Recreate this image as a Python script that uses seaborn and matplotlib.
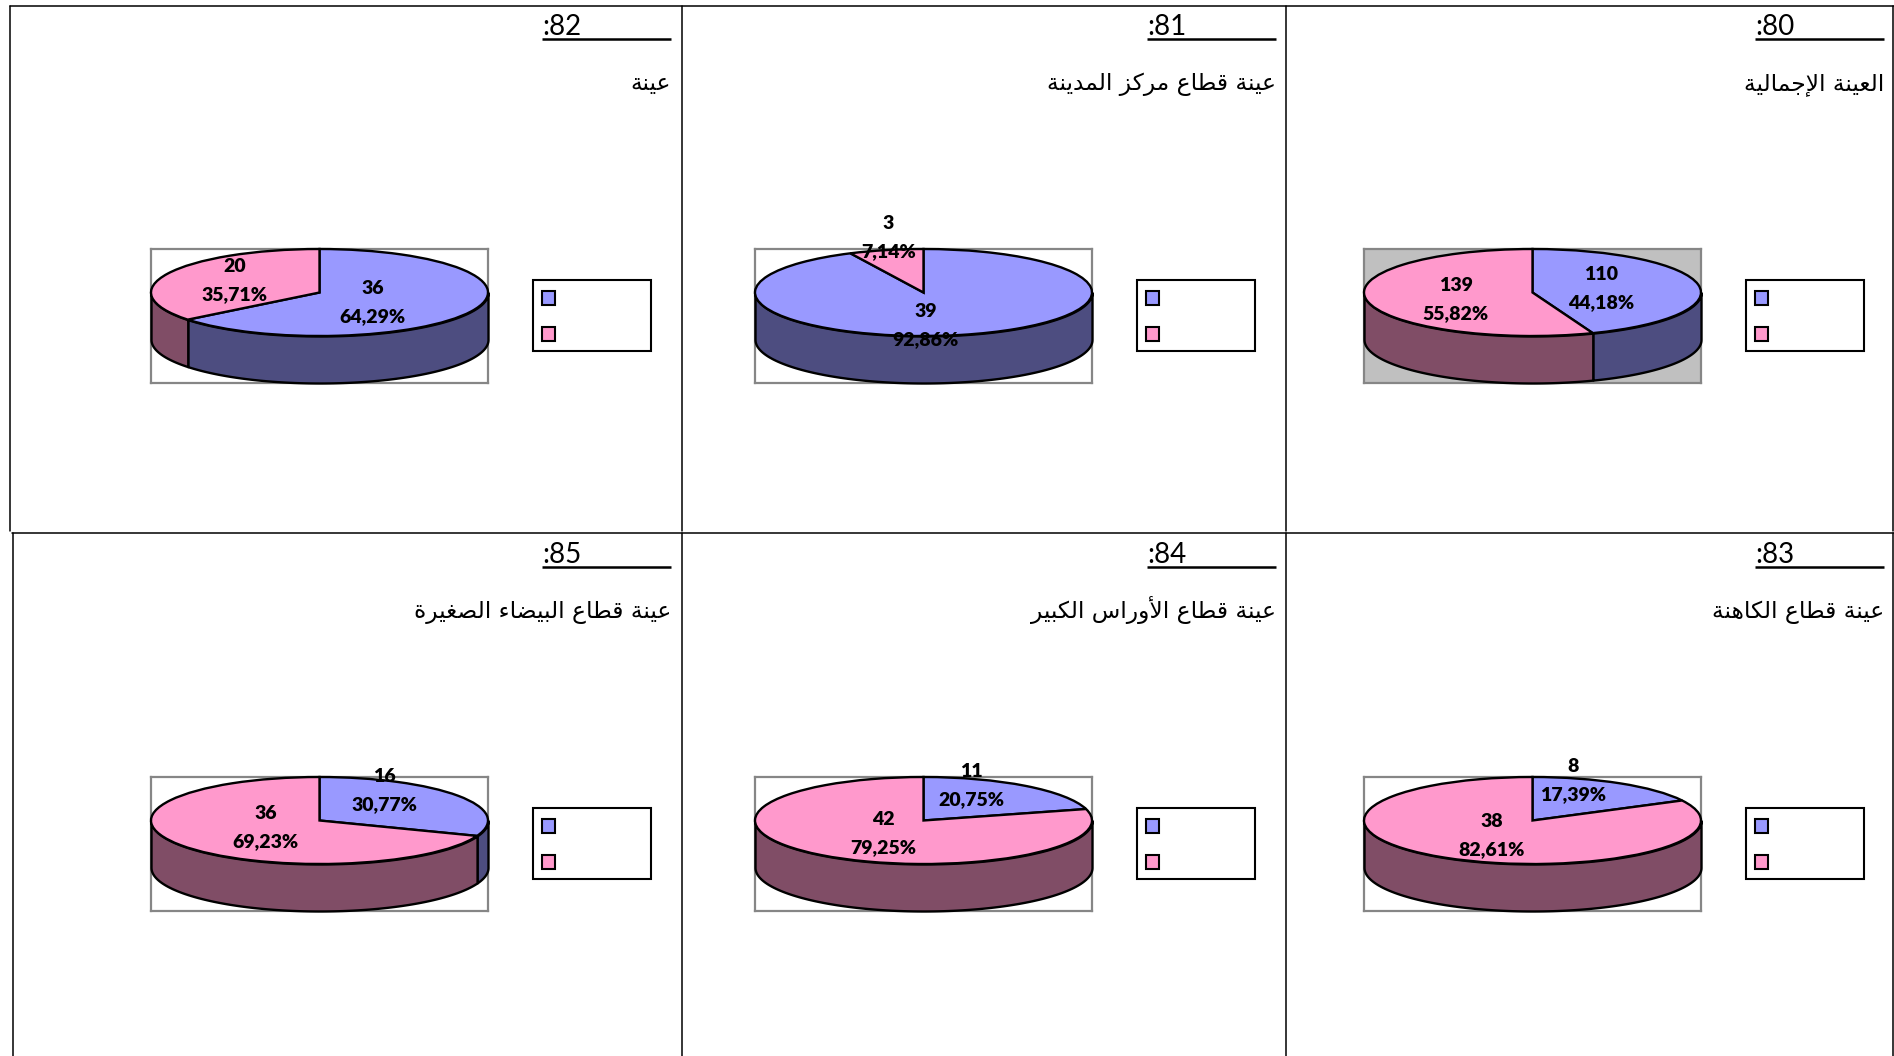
import matplotlib
matplotlib.use("Agg")
import numpy as np
import matplotlib.pyplot as plt
from matplotlib.patches import Rectangle
import seaborn as sns

# chart numbers and sample names, right to left, top row first
chart_numbers = ["80", "81", "82", "83", "84", "85"]
sample_names = [
    "العينة الإجمالية",
    "عينة قطاع مركز المدينة",
    "عينة",
    "عينة قطاع الكاهنة",
    "عينة قطاع الأوراس الكبير",
    "عينة قطاع البيضاء الصغيرة",
]
blue_counts = [110, 39, 36, 8, 11, 16]
pink_counts = [139, 3, 20, 38, 42, 36]
blue_pct = ["44,18%", "92,86%", "64,29%", "17,39%", "20,75%", "30,77%"]
pink_pct = ["55,82%", "7,14%", "35,71%", "82,61%", "79,25%", "69,23%"]

# layout, in pixels of the 1894x1056 picture
W, H = 1894, 1056
box_left = [1364, 755, 151, 1364, 755, 151]
box_top = [249, 249, 249, 777, 777, 777]
box_w, box_h = 337, 134
ell_b, wall = 43.5, 47
head_right = [1884, 1276, 671, 1884, 1276, 671]
legend_left = [1746, 1137, 533, 1746, 1137, 533]
# label centres relative to the pie centre (blue count, pink count)
blue_xy = [(69, -18), (2, 19), (53, -4), (41, -54), (48, -49), (65, -44)]
pink_xy = [(-77, -7), (-35, -69), (-85, -26), (-41, 1), (-40, -1), (-54, -7)]
line_gap = 28.5

TOP_COL, DARK_COL = ["#9999FF", "#FF99CC"], ["#4D4D80", "#804D66"]

FORMS = {
    "ا": (0xFE8D, 0xFE8E), "أ": (0xFE83, 0xFE84), "إ": (0xFE87, 0xFE88),
    "د": (0xFEA9, 0xFEAA), "ر": (0xFEAD, 0xFEAE), "ز": (0xFEAF, 0xFEB0),
    "و": (0xFEED, 0xFEEE), "ة": (0xFE93, 0xFE94), "ء": (0xFE80, 0xFE80),
    "ب": (0xFE8F, 0xFE90, 0xFE91, 0xFE92), "ج": (0xFE9D, 0xFE9E, 0xFE9F, 0xFEA0),
    "س": (0xFEB1, 0xFEB2, 0xFEB3, 0xFEB4), "ص": (0xFEB9, 0xFEBA, 0xFEBB, 0xFEBC),
    "ض": (0xFEBD, 0xFEBE, 0xFEBF, 0xFEC0), "ط": (0xFEC1, 0xFEC2, 0xFEC3, 0xFEC4),
    "ع": (0xFEC9, 0xFECA, 0xFECB, 0xFECC), "غ": (0xFECD, 0xFECE, 0xFECF, 0xFED0),
    "ق": (0xFED5, 0xFED6, 0xFED7, 0xFED8), "ك": (0xFED9, 0xFEDA, 0xFEDB, 0xFEDC),
    "ل": (0xFEDD, 0xFEDE, 0xFEDF, 0xFEE0), "م": (0xFEE1, 0xFEE2, 0xFEE3, 0xFEE4),
    "ن": (0xFEE5, 0xFEE6, 0xFEE7, 0xFEE8), "ه": (0xFEE9, 0xFEEA, 0xFEEB, 0xFEEC),
    "ي": (0xFEF1, 0xFEF2, 0xFEF3, 0xFEF4),
}
LAM_ALEF = {"أ": (0xFEF7, 0xFEF8), "إ": (0xFEF9, 0xFEFA), "ا": (0xFEFB, 0xFEFC)}


def shape_arabic(text):
    # matplotlib has no shaping or bidi, so pick the joined forms by hand
    out = []
    for word in text.split(" "):
        glyphs = []
        joined = False
        i = 0
        while i < len(word):
            ch = word[i]
            if ch == "ل" and i + 1 < len(word) and word[i + 1] in LAM_ALEF:
                glyphs.append(chr(LAM_ALEF[word[i + 1]][1 if joined else 0]))
                joined = False
                i += 2
                continue
            forms = FORMS[ch]
            dual = len(forms) == 4
            next_joins = dual and i + 1 < len(word)
            if joined and next_joins:
                g = forms[3]
            elif next_joins:
                g = forms[2]
            elif joined:
                g = forms[1]
            else:
                g = forms[0]
            glyphs.append(chr(g))
            joined = next_joins
            i += 1
        out.append("".join(reversed(glyphs)))
    return " ".join(reversed(out))


def draw_pie(ax, blue, pink, grey_back):
    palette = sns.color_palette(TOP_COL)
    dark = sns.color_palette(DARK_COL)
    ax.pie([blue, pink], colors=palette, startangle=90, counterclock=False,
           wedgeprops={"edgecolor": "black", "linewidth": 1.7, "zorder": 3, "clip_on": False})
    ax.set_aspect("auto")
    top = 1
    bottom = top - box_h / ell_b
    ax.set_xlim(-1, 1)
    ax.set_ylim(bottom, top)
    depth = wall / ell_b

    # side wall of the front half, split where the blue slice ends
    split = 360 * blue / (blue + pink)
    for lo, hi, col in [(90, min(270, split), dark[0]), (max(90, split), 270, dark[1])]:
        if hi <= lo:
            continue
        t = np.radians(np.linspace(lo, hi, 120))
        ax.fill_between(np.sin(t), np.cos(t), np.cos(t) - depth, facecolor=col,
                        edgecolor="black", linewidth=1.7, zorder=2, clip_on=False)

    ax.set_frame_on(True)
    ax.set_facecolor("#C0C0C0" if grey_back else "white")
    for s in ax.spines.values():
        s.set_color("#868686")
        s.set_linewidth(1.6)
        s.set_zorder(1)


sns.set_theme(style="white")
plt.rcParams["font.family"] = ["Lato", "DejaVu Sans"]

fig = plt.figure(figsize=(W / 100, H / 100), dpi=100, facecolor="white")

for i in range(6):
    ax = fig.add_axes([box_left[i] / W, 1 - (box_top[i] + box_h) / H, box_w / W, box_h / H])
    draw_pie(ax, blue_counts[i], pink_counts[i], i == 0)

over = fig.add_axes([0, 0, 1, 1], zorder=5)
over.set_xlim(0, W)
over.set_ylim(H, 0)
over.axis("off")
over.patch.set_alpha(0)

# table frame
frame_lw = 1.1
over.plot([9.5, W], [5.5, 5.5], color="black", lw=frame_lw)
over.plot([12, W], [533, 533], color="black", lw=frame_lw)
over.plot([9.5, 9.5], [5.5, 531], color="black", lw=frame_lw)
over.plot([13, 13], [533, H], color="black", lw=frame_lw)
for x in [681.5, 1285.5, 1893]:
    over.plot([x, x], [5.5, 531], color="black", lw=frame_lw)
    over.plot([x, x], [533, H], color="black", lw=frame_lw)

for i in range(6):
    row_y = 0 if i < 3 else 528
    r = head_right[i]
    cx = box_left[i] + box_w / 2
    cy = box_top[i] + ell_b

    # chart number with its underline
    over.text(r - 129, row_y + 35, ":" + chart_numbers[i], ha="left", va="baseline",
              fontsize=20, family="Lato", color="black")
    over.plot([r - 129, r], [row_y + 38.5, row_y + 38.5], color="black", lw=1.8,
              solid_capstyle="butt")

    over.text(r, row_y + 90, shape_arabic(sample_names[i]), ha="right", va="baseline",
              fontsize=16.8, family="DejaVu Sans", color="black")

    # value labels
    for xy, count, pct in [(blue_xy[i], blue_counts[i], blue_pct[i]),
                           (pink_xy[i], pink_counts[i], pink_pct[i])]:
        over.text(cx + xy[0], cy + xy[1], str(count), ha="center", va="center",
                  fontsize=14, fontweight=800, family="Lato", color="black")
        over.text(cx + xy[0], cy + xy[1] + line_gap, pct, ha="center", va="center",
                  fontsize=14, fontweight=800, family="Lato", color="black")

    # legend box, its labels are empty in the source
    lx, ly = legend_left[i], box_top[i] + 31
    over.add_patch(Rectangle((lx, ly), 118, 71, facecolor="white", edgecolor="black", lw=1.5))
    for k, col in enumerate(TOP_COL):
        over.add_patch(Rectangle((lx + 8.5, ly + 11 + k * 35.5), 13, 14, facecolor=col,
                                 edgecolor="black", lw=1.5))

fig.savefig("out.png", dpi=100)
